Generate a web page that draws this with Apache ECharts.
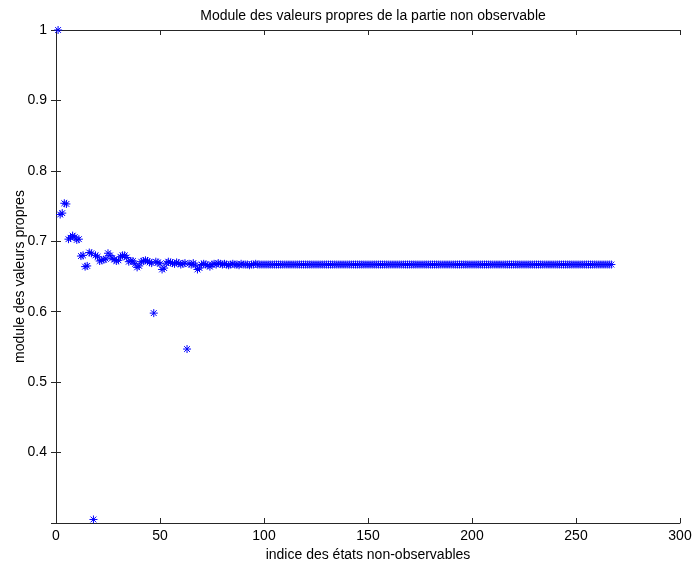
<!DOCTYPE html>
<html>
<head>
<meta charset="utf-8">
<script src="https://cdn.jsdelivr.net/npm/echarts@6/dist/echarts.min.js"></script>
<style>html,body{margin:0;padding:0;background:#fff}#c{width:695px;height:563px}</style>
</head>
<body>
<div id="c"></div>
<script>
const titleText = "Module des valeurs propres de la partie non observable";
const xLabel = "indice des états non-observables";
const yLabel = "module des valeurs propres";
const xTicks = [0, 50, 100, 150, 200, 250, 300];
const yTicks = [0.4, 0.5, 0.6, 0.7, 0.8, 0.9, 1];
// modulus of eigenvalue for index 1..267
const moduleValues = [
  1.000, 0.738, 0.740, 0.754, 0.753, 0.703, 0.705, 0.708, 0.706, 0.702,
  0.703, 0.679, 0.680, 0.664, 0.665, 0.684, 0.683, 0.305, 0.680, 0.678,
  0.672, 0.673, 0.674, 0.675, 0.683, 0.680, 0.676, 0.674, 0.672, 0.673,
  0.678, 0.680, 0.680, 0.677, 0.671, 0.672, 0.672, 0.668, 0.663, 0.665,
  0.671, 0.672, 0.673, 0.672, 0.670, 0.669, 0.598, 0.671, 0.670, 0.668,
  0.660, 0.662, 0.669, 0.671, 0.670, 0.669, 0.668, 0.670, 0.669, 0.667,
  0.668, 0.669, 0.547, 0.668, 0.667, 0.669, 0.666, 0.660, 0.662, 0.667,
  0.668, 0.667, 0.666, 0.664, 0.667, 0.668, 0.667, 0.669, 0.668, 0.667,
  0.668, 0.667, 0.666, 0.667, 0.668, 0.667, 0.667, 0.666, 0.668, 0.667,
  0.667, 0.667, 0.666, 0.667, 0.667, 0.668, 0.667, 0.667, 0.667, 0.667,
  0.667, 0.667, 0.667, 0.667, 0.667, 0.667, 0.667, 0.667, 0.667, 0.667,
  0.667, 0.667, 0.667, 0.667, 0.667, 0.667, 0.667, 0.667, 0.667, 0.667,
  0.667, 0.667, 0.667, 0.667, 0.667, 0.667, 0.667, 0.667, 0.667, 0.667,
  0.667, 0.667, 0.667, 0.667, 0.667, 0.667, 0.667, 0.667, 0.667, 0.667,
  0.667, 0.667, 0.667, 0.667, 0.667, 0.667, 0.667, 0.667, 0.667, 0.667,
  0.667, 0.667, 0.667, 0.667, 0.667, 0.667, 0.667, 0.667, 0.667, 0.667,
  0.667, 0.667, 0.667, 0.667, 0.667, 0.667, 0.667, 0.667, 0.667, 0.667,
  0.667, 0.667, 0.667, 0.667, 0.667, 0.667, 0.667, 0.667, 0.667, 0.667,
  0.667, 0.667, 0.667, 0.667, 0.667, 0.667, 0.667, 0.667, 0.667, 0.667,
  0.667, 0.667, 0.667, 0.667, 0.667, 0.667, 0.667, 0.667, 0.667, 0.667,
  0.667, 0.667, 0.667, 0.667, 0.667, 0.667, 0.667, 0.667, 0.667, 0.667,
  0.667, 0.667, 0.667, 0.667, 0.667, 0.667, 0.667, 0.667, 0.667, 0.667,
  0.667, 0.667, 0.667, 0.667, 0.667, 0.667, 0.667, 0.667, 0.667, 0.667,
  0.667, 0.667, 0.667, 0.667, 0.667, 0.667, 0.667, 0.667, 0.667, 0.667,
  0.667, 0.667, 0.667, 0.667, 0.667, 0.667, 0.667, 0.667, 0.667, 0.667,
  0.667, 0.667, 0.667, 0.667, 0.667, 0.667, 0.667, 0.667, 0.667, 0.667,
  0.667, 0.667, 0.667, 0.667, 0.667, 0.667, 0.667
];

const points = moduleValues.map((v, i) => [i + 1, v]);
const FONT = "'Liberation Sans', Arial, sans-serif";
const axisColor = '#262626';
const asterisk = 'path://M0,-4L0,4M-4,0L4,0M-2.9,-2.9L2.9,2.9M-2.9,2.9L2.9,-2.9';

const chart = echarts.init(document.getElementById('c'), null, {renderer: 'canvas'});
function xAx(extra) {
  return Object.assign({
    type: 'value', min: xTicks[0], max: xTicks[xTicks.length - 1], interval: 50,
    splitLine: {show: false},
    axisLine: {show: true, lineStyle: {color: axisColor, width: 1}},
    axisTick: {show: true, inside: true, length: 5, lineStyle: {color: axisColor}}
  }, extra);
}
function yAx(extra) {
  return Object.assign({
    type: 'value', min: 0.3, max: yTicks[yTicks.length - 1], interval: 0.1,
    splitLine: {show: false},
    axisLine: {show: true, lineStyle: {color: axisColor, width: 1}},
    axisTick: {show: true, inside: true, length: 5, lineStyle: {color: axisColor}}
  }, extra);
}
chart.setOption({
  animation: false,
  backgroundColor: '#fff',
  title: {
    text: titleText, left: 368, textAlign: 'center', top: 4,
    textStyle: {fontFamily: FONT, fontSize: 14, fontWeight: 'normal', color: '#000'}
  },
  grid: {left: 56, right: 15, top: 30, bottom: 40, containLabel: false, outerBoundsMode: 'none'},
  xAxis: [
    xAx({
      position: 'bottom',
      name: xLabel, nameLocation: 'middle', nameGap: 21,
      nameTextStyle: {fontFamily: FONT, fontSize: 14, color: '#000'},
      axisLabel: {fontFamily: FONT, fontSize: 14, color: '#000', margin: 6}
    }),
    xAx({position: 'top', axisLabel: {show: false}})
  ],
  yAxis: [
    yAx({
      position: 'left',
      name: yLabel, nameLocation: 'middle', nameGap: 29, nameRotate: 90,
      nameMoveOverlap: false,
      nameTextStyle: {fontFamily: FONT, fontSize: 14, color: '#000'},
      axisLabel: {fontFamily: FONT, fontSize: 14, color: '#000', margin: 9,
        showMinLabel: false,
        formatter: v => (Math.abs(v - 1) < 1e-9 ? '1' : String(Math.round(v * 10) / 10))}
    }),
    yAx({position: 'right', axisLabel: {show: false}})
  ],
  series: [{
    type: 'scatter',
    xAxisIndex: 0, yAxisIndex: 0,
    data: points,
    symbol: asterisk,
    symbolSize: 8,
    itemStyle: {color: 'rgba(0,0,0,0)', borderColor: '#0000ff', borderWidth: 1, opacity: 1},
    emphasis: {disabled: true}
  }]
});
</script>
</body>
</html>
